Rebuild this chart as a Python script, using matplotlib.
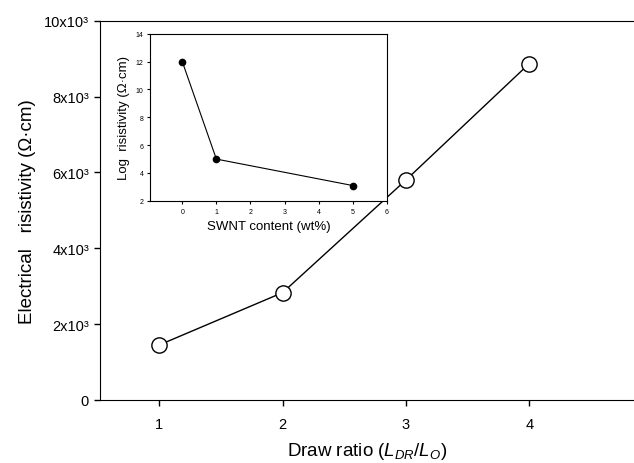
import numpy as np
import matplotlib
matplotlib.use("Agg")
import matplotlib.pyplot as plt

plt.rcParams['font.family'] = ['Liberation Sans', 'DejaVu Sans']
plt.rcParams['mathtext.fontset'] = 'custom'
plt.rcParams['mathtext.rm'] = 'Liberation Sans'
plt.rcParams['mathtext.it'] = 'Liberation Sans:italic'

# main data: draw ratio vs resistivity
draw_ratio = [1, 2, 3, 4]
resistivity = [1450, 2830, 5800, 8870]
y_ticks = [0, 2000, 4000, 6000, 8000, 10000]
y_tick_labels = ['0', '2x10³', '4x10³', '6x10³', '8x10³', '10x10³']

# inset data: SWNT content vs log resistivity
swnt_content = [0, 1, 5]
log_resistivity = [12, 5, 3.1]

fig = plt.figure(figsize=(6.34, 4.64), dpi=100)
ax = fig.add_axes([0.158, 0.136, 0.842, 0.817])
ax.plot(draw_ratio, resistivity, 'k-', linewidth=1.0, marker='o', markersize=11,
        markerfacecolor='white', markeredgecolor='black', markeredgewidth=1.0, clip_on=False)
ax.set_xlim(0.52, 4.85)
ax.set_ylim(0, 10000)
ax.set_xticks(draw_ratio)
ax.set_yticks(y_ticks)
ax.set_yticklabels(y_tick_labels)
ax.spines['right'].set_visible(False)
ax.tick_params(direction='out', length=4, width=1, labelsize=10.5, pad=4)
ax.tick_params(axis='x', pad=8)
ax.set_xlabel(r'Draw ratio ($L_{DR}$/$L_O$)', fontsize=13.5, labelpad=7)
ax.set_ylabel('Electrical   risistivity (Ω·cm)', fontsize=13.5, labelpad=6)

ins = fig.add_axes([0.237, 0.565, 0.373, 0.36])
ins.plot(swnt_content, log_resistivity, 'k-', linewidth=0.8, marker='o', markersize=4.5,
         markerfacecolor='black', markeredgecolor='black')
ins.set_xlim(-0.94, 6)
ins.set_ylim(2, 14)
ins.set_xticks(range(0, 7))
ins.set_yticks(range(2, 15, 2))
ins.tick_params(direction='out', length=2, width=0.8, labelsize=5, pad=3)
ins.set_xlabel('SWNT content (wt%)', fontsize=9.5, labelpad=4)
ins.set_ylabel('Log  risistivity (Ω·cm)', fontsize=9.5, labelpad=4)

fig.savefig('out.png', dpi=100)
